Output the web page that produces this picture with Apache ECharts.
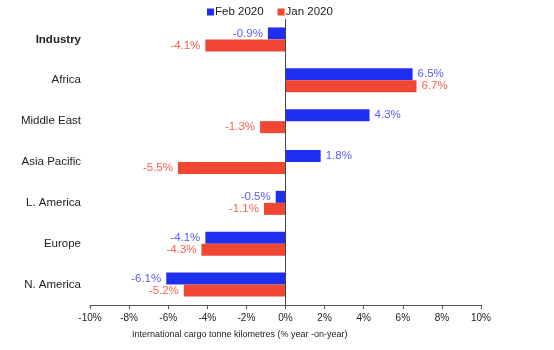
<!DOCTYPE html>
<html>
<head>
<meta charset="utf-8">
<script src="https://cdn.jsdelivr.net/npm/echarts@6/dist/echarts.min.js"></script>
<style>
  html, body { margin: 0; padding: 0; background: #fff; }
  #chart { width: 554px; height: 350px; }
</style>
</head>
<body>
<div id="chart"></div>
<script>
var regions = ['Industry', 'Africa', 'Middle East', 'Asia Pacific', 'L. America', 'Europe', 'N. America']
var feb2020 = [-0.9, 6.5, 4.3, 1.8, -0.5, -4.1, -6.1]
var jan2020 = [-4.1, 6.7, -1.3, -5.5, -1.1, -4.3, -5.2]
var xTicks = [-10, -8, -6, -4, -2, 0, 2, 4, 6, 8, 10]

var blue = '#1f2ff0'
var red = '#f04634'

// labels sit outside the bar end, left for negatives
function withLabels(values, color) {
  return values.map(function (v) {
    return {
      value: v,
      label: { position: v < 0 ? 'left' : 'right', color: color }
    }
  })
}

var chart = echarts.init(document.getElementById('chart'))
chart.setOption({
  animation: false,
  textStyle: { fontFamily: 'Liberation Sans, Arial, sans-serif' },
  legend: {
    top: 1,
    left: 202,
    itemWidth: 7,
    itemHeight: 7,
    itemGap: 14,
    icon: 'rect',
    textStyle: { fontSize: 11.5, color: '#222', padding: [0, 0, 0, -4] },
    data: ['Feb 2020', 'Jan 2020']
  },
  grid: { left: 90, right: 73, top: 19, bottom: 45 },
  xAxis: {
    type: 'value',
    min: xTicks[0],
    max: xTicks[xTicks.length - 1],
    interval: 2,
    axisLine: { show: true, lineStyle: { color: '#555', width: 1 } },
    axisTick: { show: true, length: 4, lineStyle: { color: '#555' } },
    splitLine: { show: false },
    axisLabel: {
      fontSize: 10, color: '#222', margin: 8,
      formatter: function (v) { return v + '%' }
    }
  },
  yAxis: {
    type: 'category',
    inverse: true,
    data: regions,
    axisLine: { show: false },
    axisTick: { show: false },
    axisLabel: {
      fontSize: 11.5, color: '#222', margin: 9,
      formatter: function (v) { return v === 'Industry' ? '{b|' + v + '}' : v },
      rich: { b: { fontWeight: 'bold', fontSize: 11.5, color: '#222' } }
    }
  },
  series: [
    {
      name: 'Feb 2020',
      type: 'bar',
      barWidth: 12,
      barGap: '0%',
      itemStyle: { color: blue },
      label: {
        show: true, fontSize: 11.5, distance: 5,
        formatter: function (p) { return p.value.toFixed(1) + '%' }
      },
      data: withLabels(feb2020, '#5a5aff'),
      markLine: {
        silent: true,
        symbol: 'none',
        label: { show: false },
        lineStyle: { color: '#444', type: 'solid', width: 1 },
        data: [{ xAxis: 0 }]
      }
    },
    {
      name: 'Jan 2020',
      type: 'bar',
      barWidth: 12,
      itemStyle: { color: red },
      label: {
        show: true, fontSize: 11.5, distance: 5,
        formatter: function (p) { return p.value.toFixed(1) + '%' }
      },
      data: withLabels(jan2020, '#f8604f')
    }
  ],
  graphic: [{
    type: 'text',
    left: 132,
    top: 330,
    style: {
      text: 'International cargo tonne kilometres (% year -on-year)',
      fontSize: 9, fill: '#222', fontFamily: 'Liberation Sans, Arial, sans-serif'
    }
  }]
})
</script>
</body>
</html>
